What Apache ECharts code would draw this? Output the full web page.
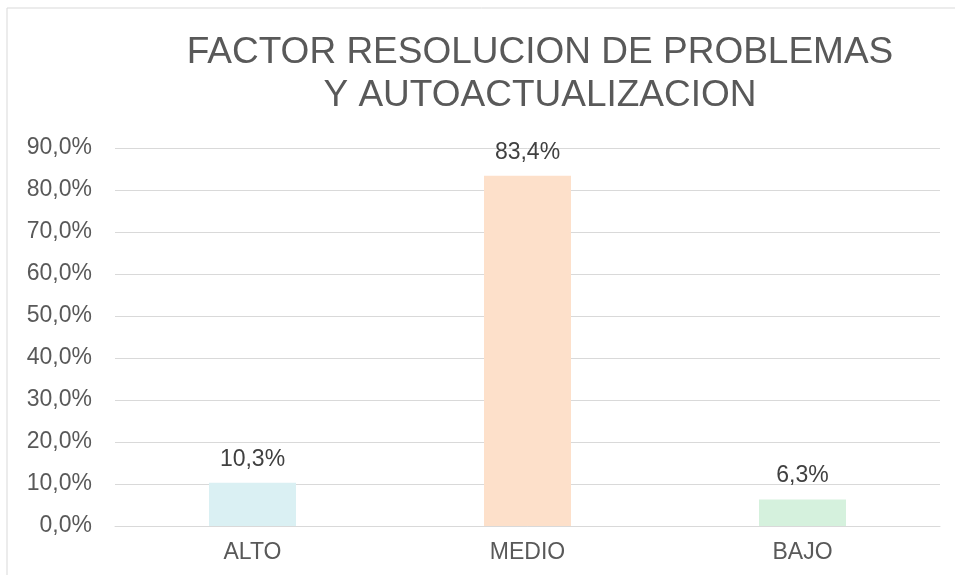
<!DOCTYPE html>
<html>
<head>
<meta charset="utf-8">
<script src="https://cdn.jsdelivr.net/npm/echarts@6/dist/echarts.min.js"></script>
<style>
  html, body { margin: 0; padding: 0; background: #fff; }
  #chart { width: 955px; height: 575px; }
</style>
</head>
<body>
<div id="chart"></div>
<script>
// datos
var categorias = ['ALTO', 'MEDIO', 'BAJO'];
var porcentajes = [10.3, 83.4, 6.3];
var colores = ['#DAF0F3', '#FDE0CA', '#D5F1DD'];
var ejeMax = 90;
var ejePaso = 10;

function fmt(v) {
    return v.toFixed(1).replace('.', ',') + '%';
}

var option = {
    backgroundColor: '#fff',
    title: {
        text: 'FACTOR RESOLUCION DE PROBLEMAS\nY AUTOACTUALIZACION',
        left: 535,
        top: 26,
        textAlign: 'center',
        textStyle: {
            fontFamily: 'Liberation Sans',
            fontSize: 37,
            fontWeight: 'normal',
            color: '#595959',
            lineHeight: 43
        }
    },
    graphic: [
        {
            type: 'rect',
            shape: { x: 7, y: 8, width: 1000, height: 1000 },
            style: { fill: 'none', stroke: '#d9d9d9', lineWidth: 1 },
            silent: true
        }
    ],
    grid: {
        left: 115,
        right: 15,
        top: 148,
        bottom: 49
    },
    xAxis: {
        type: 'category',
        data: categorias,
        axisLine: { lineStyle: { color: '#d9d9d9' } },
        axisTick: { show: false },
        axisLabel: {
            margin: 15,
            fontFamily: 'Liberation Sans',
            fontSize: 23,
            color: '#595959'
        }
    },
    yAxis: {
        type: 'value',
        min: 0,
        max: ejeMax,
        interval: ejePaso,
        axisLine: { show: false },
        axisTick: { show: false },
        splitLine: { lineStyle: { color: '#d9d9d9' } },
        axisLabel: {
            margin: 23,
            fontFamily: 'Liberation Sans',
            fontSize: 23,
            color: '#595959',
            formatter: function (v) { return fmt(v); }
        }
    },
    series: [
        {
            type: 'bar',
            barWidth: 87,
            data: porcentajes.map(function (v, i) {
                return { value: v, itemStyle: { color: colores[i] } };
            }),
            label: {
                show: true,
                position: 'top',
                distance: 12,
                fontFamily: 'Liberation Sans',
                fontSize: 23,
                color: '#404040',
                formatter: function (p) { return fmt(p.value); }
            }
        }
    ]
};

var chart = echarts.init(document.getElementById('chart'));
chart.setOption(option);
</script>
</body>
</html>
